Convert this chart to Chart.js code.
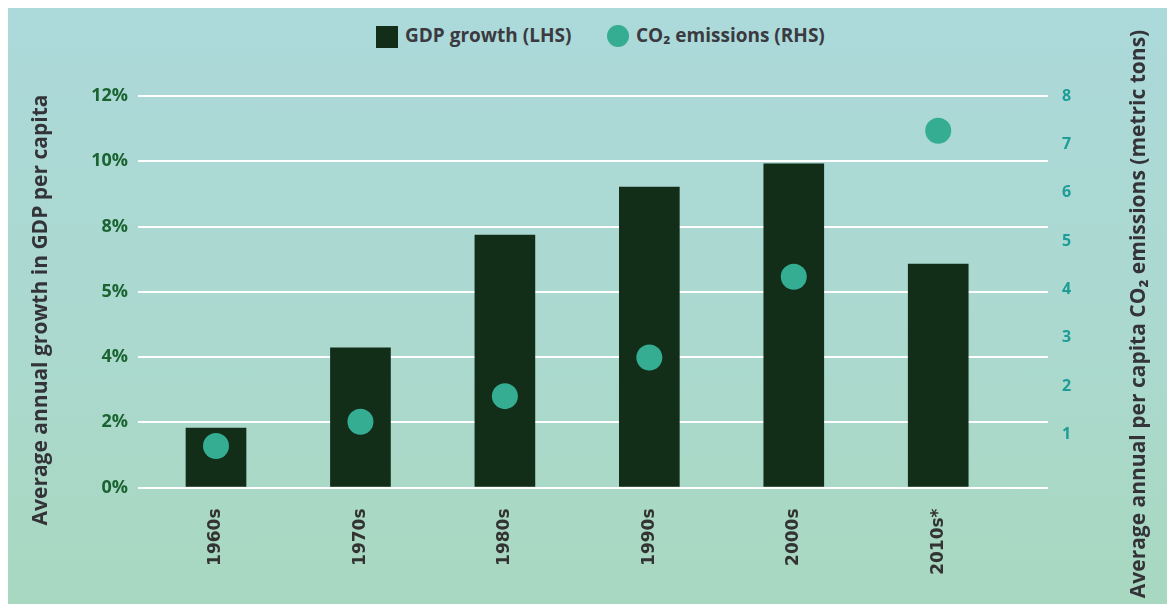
<!DOCTYPE html>
<html>
<head>
<meta charset="utf-8">
<script src="https://cdn.jsdelivr.net/npm/chart.js@4/dist/chart.umd.min.js"></script>
<style>
  body { margin: 0; background: #ffffff; }
  .panel {
    position: absolute; left: 8px; top: 8px; width: 1159px; height: 596px;
    background: linear-gradient(to bottom, #acd9da 0%, #abd9cf 55%, #a8d8c0 100%);
  }
  .legend { font-family: "Open Sans", sans-serif; font-weight: 700; font-size: 19px; color: #3a3a40; }
  .legend span { position: absolute; white-space: nowrap; }
  .swatch-bar { left: 368px; top: 18px; width: 22px; height: 22px; background: #122d18; }
  .swatch-dot { left: 599px; top: 17px; width: 22px; height: 22px; border-radius: 50%; background: #35ad93; }
  .label-bar { left: 397px; top: 14px; }
  .label-dot { left: 628px; top: 14px; }
  canvas { position: absolute; left: 0; top: 0; }
</style>
</head>
<body>
<div class="panel">
  <div class="legend">
    <span class="swatch-bar"></span><span class="label-bar">GDP growth (LHS)</span>
    <span class="swatch-dot"></span><span class="label-dot">CO₂ emissions (RHS)</span>
  </div>
  <canvas id="gdpChart" width="1159" height="596"></canvas>
</div>
<script>
const decades = ["1960s", "1970s", "1980s", "1990s", "2000s", "2010s*"];
const gdpGrowth = [1.82, 4.28, 7.74, 9.21, 9.92, 6.85];   // % per year, left axis
const co2PerCapita = [0.76, 1.26, 1.79, 2.59, 4.26, 7.28]; // metric tons, right axis
const leftTickLabels = ["0%", "2%", "4%", "5%", "8%", "10%", "12%"];
const rightTickValues = [1, 2, 3, 4, 5, 6, 7, 8];

const leftTitle = "Average annual growth in GDP per capita";
const rightTitle = "Average annual per capita CO₂ emissions (metric tons)";

// rotated axis titles, both reading bottom to top
const axisTitles = {
    id: "axisTitles",
    afterDraw(chart) {
        const { ctx } = chart;
        ctx.save();
        ctx.font = "700 21px 'Open Sans'";
        ctx.fillStyle = "#333338";
        ctx.textAlign = "center";
        ctx.textBaseline = "alphabetic";
        [[39, 302, leftTitle], [1137, 306, rightTitle]].forEach(([x, y, text]) => {
            ctx.save();
            ctx.translate(x, y);
            ctx.rotate(-Math.PI / 2);
            ctx.fillText(text, 0, 0);
            ctx.restore();
        });
        ctx.restore();
    }
};

new Chart(document.getElementById("gdpChart"), {
    data: {
        datasets: [{
            type: "line",
            label: "CO₂ emissions (RHS)",
            data: decades.map((_, i) => ({ x: i, y: co2PerCapita[i] })),
            yAxisID: "y1",
            showLine: false,
            pointRadius: 13,
            pointHoverRadius: 13,
            pointBackgroundColor: "#35ad93",
            pointBorderWidth: 0,
            order: 0
        }, {
            type: "bar",
            label: "GDP growth (LHS)",
            data: decades.map((_, i) => ({ x: i, y: gdpGrowth[i] })),
            yAxisID: "y",
            backgroundColor: "#122d18",
            barThickness: 60,
            order: 1
        }]
    },
    options: {
        responsive: false,
        animation: false,
        devicePixelRatio: 1,
        layout: { padding: { top: 88, left: 0, right: 0, bottom: 0 } },
        plugins: { legend: { display: false }, tooltip: { enabled: false } },
        scales: {
            x: {
                type: "linear",
                min: -0.54,
                max: 5.76,
                offset: false,
                afterBuildTicks: scale => { scale.ticks = decades.map((_, i) => ({ value: i })); },
                afterFit: scale => { scale.height = 116.5; },
                grid: { display: false, drawTicks: false, offset: false },
                border: { display: false },
                ticks: {
                    autoSkip: false,
                    minRotation: 90,
                    maxRotation: 90,
                    padding: 21,
                    color: "#333333",
                    font: { family: "DejaVu Sans", weight: "bold", size: 17 },
                    callback: value => decades[value]
                }
            },
            y: {
                position: "left",
                min: 0,
                max: 12,
                afterFit: scale => { scale.width = 130; },
                grid: { color: "#ffffff", lineWidth: 2, drawTicks: false },
                border: { display: false },
                ticks: {
                    stepSize: 2,
                    padding: 10,
                    color: "#1b6431",
                    font: { family: "Open Sans", weight: "bold", size: 18 },
                    callback: (value, index) => leftTickLabels[index]
                }
            },
            y1: {
                position: "right",
                min: -0.1,
                max: 8,
                afterBuildTicks: scale => { scale.ticks = rightTickValues.map(v => ({ value: v })); },
                afterFit: scale => { scale.width = 119; },
                grid: { display: false, drawTicks: false },
                border: { display: false },
                ticks: {
                    padding: 14,
                    color: "#1e9c96",
                    font: { family: "Open Sans", weight: "bold", size: 16 },
                    callback: value => value
                }
            }
        }
    },
    plugins: [axisTitles]
});
</script>
</body>
</html>
